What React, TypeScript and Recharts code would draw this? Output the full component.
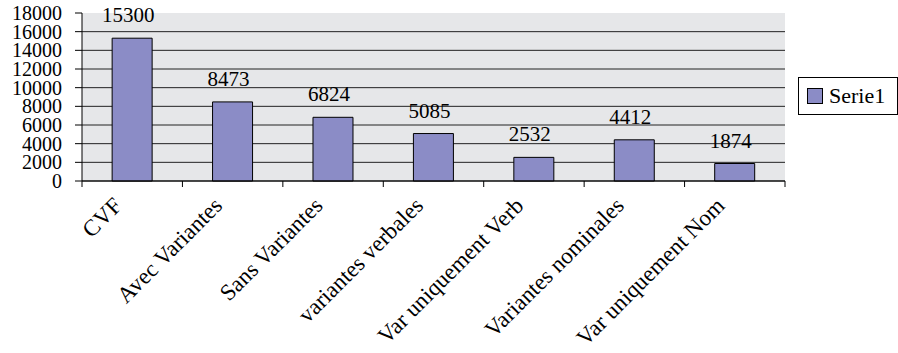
import { BarChart, Bar, XAxis, YAxis, CartesianGrid, LabelList } from "recharts";

const categories = [
  "CVF",
  "Avec Variantes",
  "Sans Variantes",
  "variantes verbales",
  "Var uniquement Verb",
  "Variantes nominales",
  "Var uniquement Nom",
];
const serie1 = [15300, 8473, 6824, 5085, 2532, 4412, 1874];
const yTicks = [0, 2000, 4000, 6000, 8000, 10000, 12000, 14000, 16000, 18000];

const data = categories.map((name, i) => ({ name, Serie1: serie1[i] }));

const W = 898;
const H = 353;
const LEFT = 82;
const RIGHT = 113;
const BAND = (W - LEFT - RIGHT) / categories.length;
const FONT = "Liberation Serif";
const BAR_COLOR = "#8b8cc6";

function XTick(props: any) {
  const { x, y, payload, index } = props;
  const half = BAND / 2;
  return (
    <g>
      <line x1={x - half} y1={y} x2={x - half} y2={y + 6} stroke="#000" />
      {index === categories.length - 1 && (
        <line x1={x + half} y1={y} x2={x + half} y2={y + 6} stroke="#000" />
      )}
      <text
        transform={`translate(${x - 9},${y + 26}) rotate(-45)`}
        textAnchor="end"
        style={{ fontFamily: FONT, fontSize: 23 }}
        fill="#000"
      >
        {payload.value}
      </text>
    </g>
  );
}

function LegendBox() {
  return (
    <div
      style={{
        position: "absolute",
        left: 798,
        top: 77,
        width: 98,
        height: 36,
        border: "1px solid #000",
        background: "#fff",
        display: "flex",
        alignItems: "center",
        fontFamily: FONT,
        fontSize: 22,
      }}
    >
      <div
        style={{
          width: 14,
          height: 14,
          marginLeft: 8,
          marginRight: 6,
          background: BAR_COLOR,
          border: "1px solid #000",
        }}
      />
      <span>Serie1</span>
    </div>
  );
}

export default function App() {
  return (
    <div
      style={{
        position: "absolute",
        left: 0,
        top: 0,
        width: W,
        height: H,
        background: "#fff",
        fontFamily: FONT,
      }}
    >
      <BarChart
        width={W}
        height={H}
        data={data}
        margin={{ top: 13, right: RIGHT, bottom: 0, left: 0 }}
        barCategoryGap="30%"
        style={{ fontFamily: FONT }}
      >
        <CartesianGrid
          vertical={false}
          stroke="#222"
          fill="#e6e7e9"
          horizontalValues={yTicks.slice(0, -1)}
        />
        <XAxis
          dataKey="name"
          height={172}
          interval={0}
          tickLine={false}
          tickSize={0}
          tickMargin={0}
          axisLine={{ stroke: "#000" }}
          tick={<XTick />}
        />
        <XAxis
          xAxisId="top"
          orientation="top"
          dataKey="name"
          height={0}
          tick={false}
          tickLine={false}
          axisLine={{ stroke: "#888" }}
        />
        <YAxis
          width={LEFT}
          domain={[0, 18000]}
          ticks={yTicks}
          interval={0}
          tickSize={7}
          tickMargin={13}
          axisLine={{ stroke: "#000" }}
          tickLine={{ stroke: "#000" }}
          tick={{ fill: "#000", fontSize: 20, style: { fontFamily: FONT } }}
        />
        <YAxis
          yAxisId="right"
          orientation="right"
          width={0}
          tick={false}
          tickLine={false}
          axisLine={{ stroke: "#888" }}
        />
        <Bar dataKey="Serie1" fill={BAR_COLOR} stroke="#000" strokeWidth={1} isAnimationActive={false}>
          <LabelList
            dataKey="Serie1"
            position="top"
            offset={16}
            dx={-4}
            fill="#000"
            fontSize={21}
            style={{ fontFamily: FONT }}
          />
        </Bar>
      </BarChart>
      <LegendBox />
    </div>
  );
}
